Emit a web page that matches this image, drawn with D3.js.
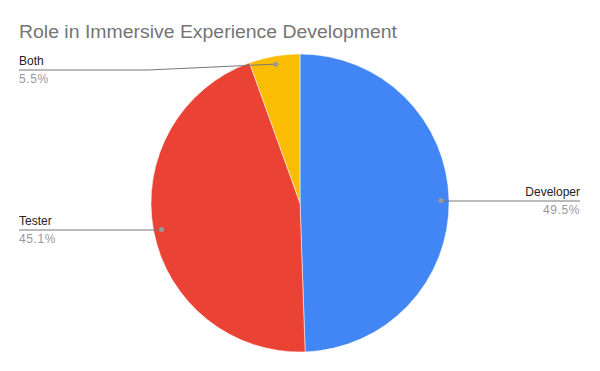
<!DOCTYPE html>
<html><head><meta charset="utf-8">
<script src="https://cdn.jsdelivr.net/npm/d3@7"></script>
<style>body{margin:0;background:#fff}svg{display:block}</style>
</head><body>
<script>
const categories = ["Developer", "Tester", "Both"];
const values = [49.5, 45.1, 5.5];
const percentLabels = ["49.5%", "45.1%", "5.5%"];
const colors = ["#4285f4", "#ea4335", "#fbbc04"];

const W = 600, H = 371, cx = 300, cy = 203, r = 149;
const FONT = "'Liberation Sans', Arial, sans-serif";
const svg = d3.select("body").append("svg").attr("width", W).attr("height", H);
svg.append("rect").attr("width", W).attr("height", H).attr("fill", "#fff");

const title = svg.append("text").attr("x", 19).attr("y", 38)
  .attr("font-family", FONT).attr("font-size", 18)
  .attr("fill", "#757575").text("Role in Immersive Experience Development");
// fit title width to reference (~378px)
const tw = title.node().getComputedTextLength();
if (Math.abs(tw - 378) > 4) title.attr("textLength", 378).attr("lengthAdjust", "spacingAndGlyphs");

const pie = d3.pie().sort(null).value(d => d)(values);
const arc = d3.arc().innerRadius(0).outerRadius(r);
const g = svg.append("g").attr("transform", `translate(${cx},${cy})`);
g.selectAll("path").data(pie).enter().append("path")
  .attr("d", arc).attr("fill", (d, i) => colors[i])
  .attr("stroke", "#fff").attr("stroke-width", 0.5);

const dotR = r * 0.946;
const labelSpecs = [
  {side: "right", lineY: 201, xEnd: 580},
  {side: "left", lineY: 230, xEnd: 19},
  {side: "left", lineY: 70, xEnd: 19, bendX: 148}
];
pie.forEach((d, i) => {
  const a = (d.startAngle + d.endAngle) / 2;
  const px = cx + Math.sin(a) * dotR, py = cy - Math.cos(a) * dotR;
  const s = labelSpecs[i];
  let pts;
  if (s.bendX) pts = [[px, py], [s.bendX, s.lineY], [s.xEnd, s.lineY]];
  else pts = [[px, py], [px, s.lineY], [s.xEnd, s.lineY]];
  svg.append("path").attr("d", d3.line()(pts)).attr("fill", "none")
    .attr("stroke", "#777").attr("stroke-width", 1);
  svg.append("circle").attr("cx", px).attr("cy", py).attr("r", 2.5).attr("fill", "#999");
  const anchor = s.side === "right" ? "end" : "start";
  svg.append("text").attr("x", s.xEnd).attr("y", s.lineY - 5)
    .attr("text-anchor", anchor).attr("font-family", FONT)
    .attr("font-size", 12).attr("fill", "#222").text(categories[i]);
  svg.append("text").attr("x", s.xEnd).attr("y", s.lineY + 13)
    .attr("text-anchor", anchor).attr("font-family", FONT)
    .attr("font-size", 12).attr("letter-spacing", 0.6).attr("fill", "#999").text(percentLabels[i]);
});
</script>
</body></html>
